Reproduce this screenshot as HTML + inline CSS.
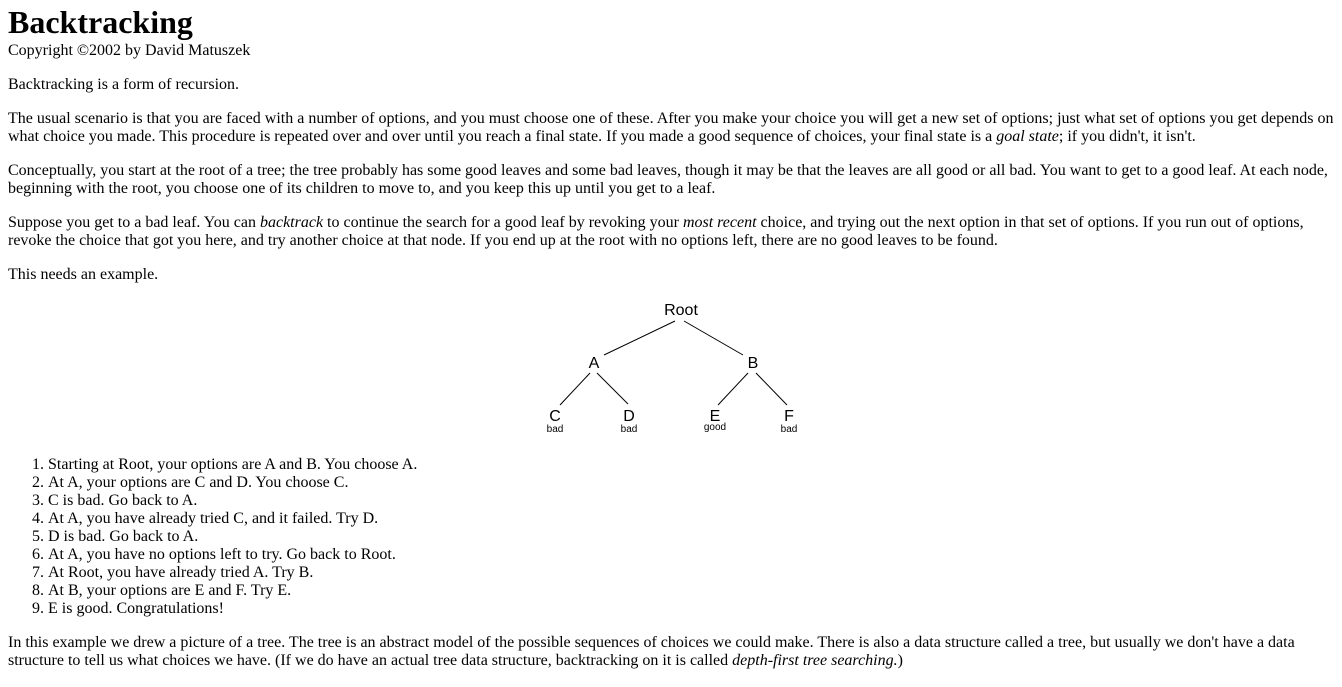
<!DOCTYPE html>
<html><head><meta charset="utf-8"><style>
body{margin:0;background:#fff;font-family:"Liberation Serif",serif;font-size:16px;color:#000;}
.a{position:absolute;left:8px;white-space:nowrap;line-height:18px;}
h1{position:absolute;left:8px;top:4px;margin:0;font-size:32px;line-height:36px;font-weight:bold;}
ol{margin:0;padding-left:40px;}
svg text{font-family:"Liberation Sans",sans-serif;}
</style></head><body>
<h1>Backtracking</h1>
<div class="a" style="top:42px">Copyright ©2002 by David Matuszek</div>
<div class="a" style="top:76px">Backtracking is a form of recursion.</div>
<div class="a" style="top:110px">The usual scenario is that you are faced with a number of options, and you must choose one of these. After you make your choice you will get a new set of options; just what set of options you get depends on<br>what choice you made. This procedure is repeated over and over until you reach a final state. If you made a good sequence of choices, your final state is a <i>goal state</i>; if you didn't, it isn't.</div>
<div class="a" style="top:162px">Conceptually, you start at the root of a tree; the tree probably has some good leaves and some bad leaves, though it may be that the leaves are all good or all bad. You want to get to a good leaf. At each node,<br>beginning with the root, you choose one of its children to move to, and you keep this up until you get to a leaf.</div>
<div class="a" style="top:214px">Suppose you get to a bad leaf. You can <i>backtrack</i> to continue the search for a good leaf by revoking your <i>most recent</i> choice, and trying out the next option in that set of options. If you run out of options,<br>revoke the choice that got you here, and try another choice at that node. If you end up at the root with no options left, there are no good leaves to be found.</div>
<div class="a" style="top:266px">This needs an example.</div>
<svg style="position:absolute;left:0;top:0" width="1342" height="687">
<g stroke="#000" stroke-width="1">
<line x1="675" y1="321" x2="604" y2="355"/>
<line x1="684" y1="321" x2="743" y2="355"/>
<line x1="590" y1="373" x2="560" y2="405"/>
<line x1="597" y1="373" x2="628" y2="404"/>
<line x1="748" y1="373" x2="718" y2="405"/>
<line x1="756" y1="373" x2="787" y2="405"/>
</g>
<g text-anchor="middle" font-size="16">
<text x="681" y="315">Root</text>
<text x="594" y="368">A</text>
<text x="753" y="368">B</text>
<text x="555" y="421">C</text>
<text x="629" y="421">D</text>
<text x="715" y="421">E</text>
<text x="789" y="421">F</text>
</g>
<g text-anchor="middle" font-size="10">
<text x="555" y="432">bad</text>
<text x="629" y="432">bad</text>
<text x="715" y="430">good</text>
<text x="789" y="432">bad</text>
</g>
</svg>
<div class="a" style="top:456px"><ol>
<li>Starting at Root, your options are A and B. You choose A.</li>
<li>At A, your options are C and D. You choose C.</li>
<li>C is bad. Go back to A.</li>
<li>At A, you have already tried C, and it failed. Try D.</li>
<li>D is bad. Go back to A.</li>
<li>At A, you have no options left to try. Go back to Root.</li>
<li>At Root, you have already tried A. Try B.</li>
<li>At B, your options are E and F. Try E.</li>
<li>E is good. Congratulations!</li>
</ol></div>
<div class="a" style="top:634px">In this example we drew a picture of a tree. The tree is an abstract model of the possible sequences of choices we could make. There is also a data structure called a tree, but usually we don't have a data<br>structure to tell us what choices we have. (If we do have an actual tree data structure, backtracking on it is called <i>depth-first tree searching.</i>)</div>
</body></html>
